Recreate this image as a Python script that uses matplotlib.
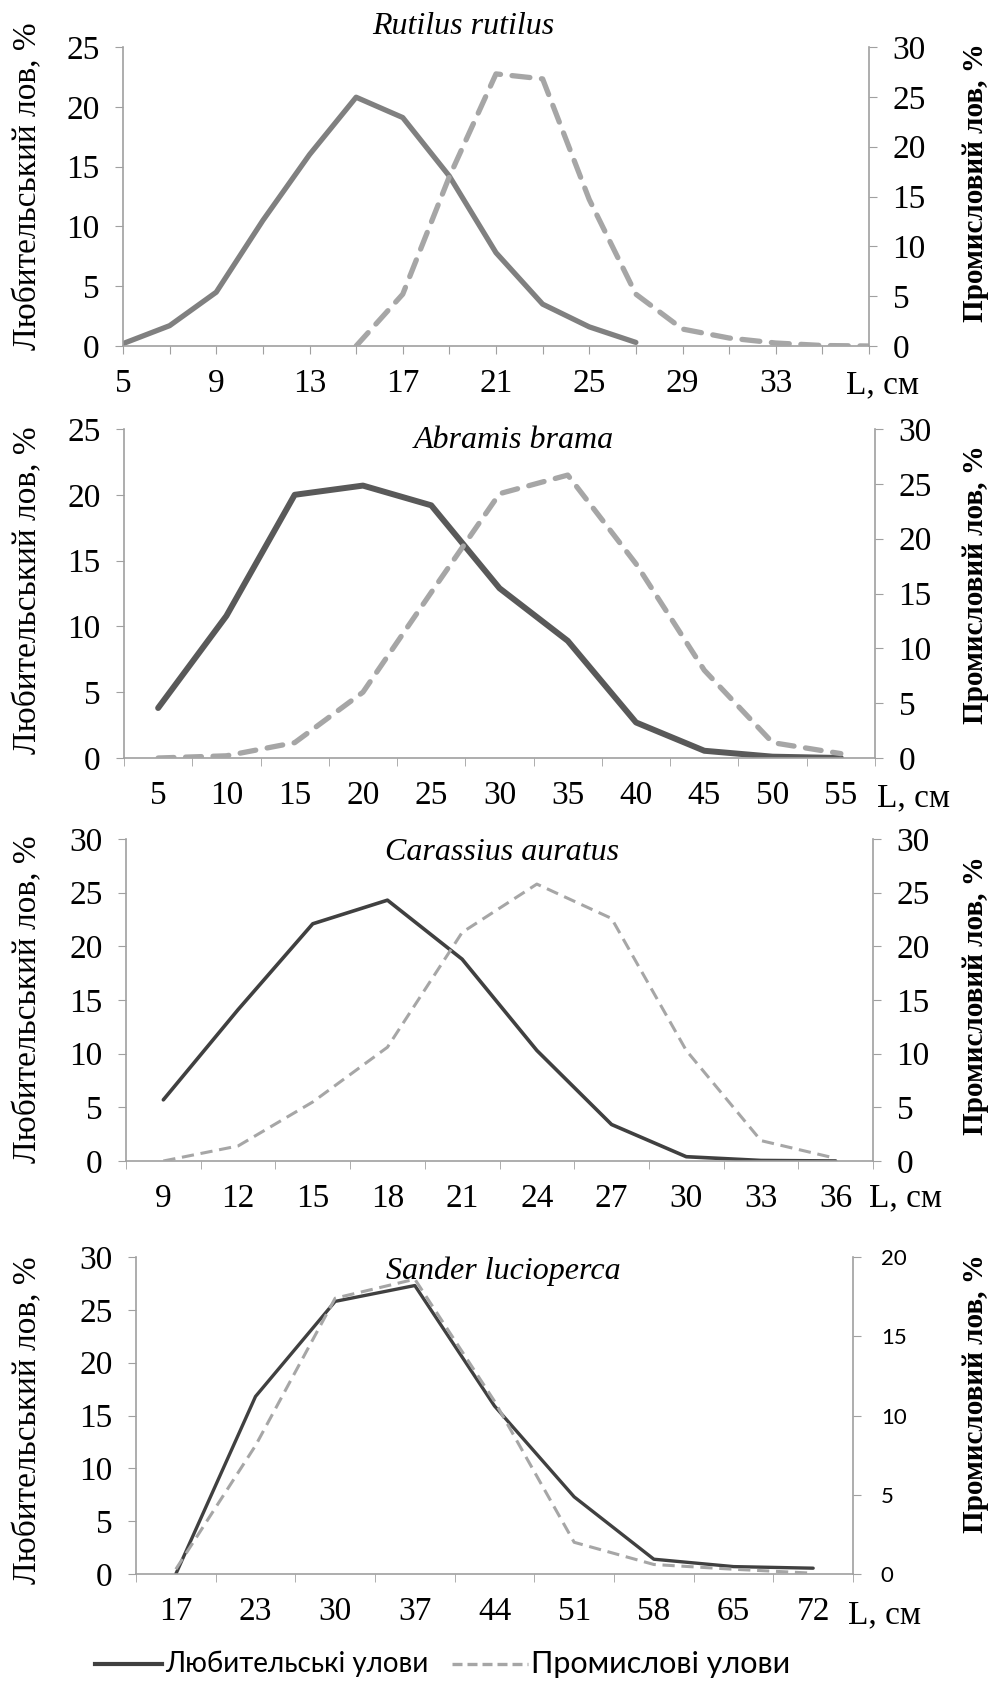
import matplotlib
matplotlib.use("Agg")
import matplotlib.pyplot as plt
from matplotlib.lines import Line2D
import numpy as np

nan = np.nan

# ---------------- data ----------------
rutilus_L = [5, 7, 9, 11, 13, 15, 17, 19, 21, 23, 25, 27, 29, 31, 33, 35, 37]
rutilus_amateur = [0.2, 1.7, 4.5, 10.5, 16.0, 20.8, 19.1, 14.2, 7.8, 3.5, 1.6, 0.3,
                   nan, nan, nan, nan, nan]
rutilus_commercial = [nan, nan, nan, nan, nan, 0.0, 5.2, 17.0, 27.3, 26.8, 14.7, 5.2,
                      1.7, 0.8, 0.3, 0.05, 0.0]

abramis_L = [5, 10, 15, 20, 25, 30, 35, 40, 45, 50, 55]
abramis_amateur = [3.8, 10.8, 20.0, 20.7, 19.2, 12.9, 8.9, 2.7, 0.55, 0.1, 0.0]
abramis_commercial = [0.0, 0.2, 1.4, 6.0, 15.1, 24.1, 25.8, 17.7, 8.0, 1.4, 0.4]

carassius_L = [9, 12, 15, 18, 21, 24, 27, 30, 33, 36]
carassius_amateur = [5.7, 14.1, 22.1, 24.3, 18.8, 10.3, 3.4, 0.4, 0.05, 0.0]
carassius_commercial = [0.0, 1.4, 5.5, 10.6, 21.3, 25.8, 22.6, 10.3, 1.9, 0.25]

sander_L = [17, 23, 30, 37, 44, 51, 58, 65, 72]
sander_amateur = [0.0, 16.8, 25.8, 27.3, 15.9, 7.3, 1.4, 0.7, 0.55]
sander_commercial = [0.3, 8.1, 17.4, 18.6, 10.9, 2.0, 0.6, 0.3, 0.05]

titles = ["Rutilus rutilus", "Abramis brama", "Carassius auratus", "Sander lucioperca"]
left_label = "Любительський лов, %"
right_label = "Промисловий лов, %"
x_unit = "L, см"
legend_labels = ["Любительські улови", "Промислові улови"]

# ---------------- style ----------------
plt.rcParams["font.family"] = ["Liberation Serif", "DejaVu Serif"]
W, H = 996, 1689
fig = plt.figure(figsize=(W / 100, H / 100), dpi=100)

AX_C = "#A0A0A0"
FS = 24
TFS = 23
TICKLEN = 6


def rect(l, r, t, b):
    return [l / W, 1 - b / H, (r - l) / W, (b - t) / H]


def panel(box, L, am, co, ylim_l, ylim_r, on_ticks, label_step, title, title_x,
          title_y, unit_x, unit_y, lab_l_y, lab_r_y, am_style, co_style,
          right_sans=False):
    ax = fig.add_axes(rect(*box))
    n = len(L)
    x = np.arange(n)
    ax2 = ax.twinx()
    ax.plot(x, am, **am_style)
    ax2.plot(x, co, **co_style)

    if on_ticks:
        ax.set_xlim(0, n - 1)
        ax.set_xticks(x)
        ax.set_xticklabels([str(v) if (i % label_step == 0 and i < n - 1) else ""
                            for i, v in enumerate(L)])
        ax.tick_params(axis="x", which="major", length=TICKLEN, direction="out",
                       color=AX_C, labelsize=FS, pad=10)
    else:
        ax.set_xlim(-0.5, n - 0.5)
        ax.set_xticks(x)
        ax.set_xticklabels([str(v) for v in L])
        ax.set_xticks(np.arange(n + 1) - 0.5, minor=True)
        ax.tick_params(axis="x", which="major", length=0, labelsize=FS, pad=16)
        ax.tick_params(axis="x", which="minor", length=TICKLEN, direction="out",
                       color=AX_C)

    ax.set_ylim(*ylim_l)
    ax.set_yticks(np.arange(ylim_l[0], ylim_l[1] + 0.1, 5))
    ax2.set_ylim(*ylim_r)
    ax2.set_yticks(np.arange(ylim_r[0], ylim_r[1] + 0.1, 5))
    ax.tick_params(axis="y", length=TICKLEN, direction="out", color=AX_C,
                   labelsize=FS, pad=11)
    if right_sans:
        ax2.tick_params(axis="y", length=TICKLEN, direction="out", color=AX_C,
                        labelsize=16, pad=14)
        for t in ax2.get_yticklabels():
            t.set_family(["Lato", "DejaVu Sans"])
    else:
        ax2.tick_params(axis="y", length=TICKLEN, direction="out", color=AX_C,
                        labelsize=FS, pad=11)

    for a in (ax, ax2):
        for s in a.spines.values():
            s.set_color(AX_C)
            s.set_linewidth(1.2)
        a.spines["top"].set_visible(False)
    ax.spines["right"].set_visible(False)
    ax2.spines["left"].set_visible(False)
    ax2.spines["bottom"].set_visible(False)
    ax.patch.set_visible(False)

    fig.text(title_x / W, 1 - title_y / H, title, fontsize=TFS, style="italic",
             ha="center", va="center")
    fig.text(unit_x / W, 1 - unit_y / H, x_unit, fontsize=FS, ha="center",
             va="center")
    fig.text(28 / W, 1 - lab_l_y / H, left_label, fontsize=FS, rotation=90,
             ha="center", va="center")
    fig.text(975 / W, 1 - lab_r_y / H, right_label, fontsize=21, rotation=90,
             ha="center", va="center", fontweight="bold")
    return ax, ax2


GRAY_DASH = "#A6A6A6"

panel((123, 869, 47, 346), rutilus_L, rutilus_amateur, rutilus_commercial,
      (0, 25), (0, 30), True, 2, titles[0], 463, 27, 882, 385, 186, 183,
      dict(color="#808080", lw=3.8, solid_capstyle="round", solid_joinstyle="round"),
      dict(color=GRAY_DASH, lw=3.8, ls=(0, (3.4, 2.2)), dash_capstyle="round"))

panel((124, 875, 429, 758), abramis_L, abramis_amateur, abramis_commercial,
      (0, 25), (0, 30), False, 1, titles[1], 514, 440, 913, 798, 590, 585,
      dict(color="#595959", lw=4.3, solid_capstyle="round", solid_joinstyle="round"),
      dict(color=GRAY_DASH, lw=3.8, ls=(0, (3.0, 2.2)), dash_capstyle="round"))

panel((126, 873, 839, 1161), carassius_L, carassius_amateur, carassius_commercial,
      (0, 30), (0, 30), False, 1, titles[2], 502, 852, 905, 1198, 999, 996,
      dict(color="#404040", lw=2.6, solid_capstyle="round", solid_joinstyle="round"),
      dict(color=GRAY_DASH, lw=2.2, ls=(0, (4.0, 2.2))))

panel((136, 853, 1257, 1574), sander_L, sander_amateur, sander_commercial,
      (0, 30), (0, 20), False, 1, titles[3], 503, 1271, 884, 1615, 1420, 1394,
      dict(color="#404040", lw=2.4, solid_capstyle="round", solid_joinstyle="round"),
      dict(color=GRAY_DASH, lw=2.2, ls=(0, (4.0, 2.2))),
      right_sans=True)

# ---------------- legend ----------------
ly = 1 - 1664 / H
fig.add_artist(Line2D([95 / W, 162 / W], [ly, ly], color="#404040", lw=3.0,
                      transform=fig.transFigure))
fig.add_artist(Line2D([452 / W, 528 / W], [ly, ly], color=GRAY_DASH, lw=2.4,
                      ls=(0, (3.0, 1.5)), transform=fig.transFigure))
fig.text(165 / W, ly, legend_labels[0], fontsize=20, family=["Lato", "DejaVu Sans"],
         ha="left", va="center")
fig.text(531 / W, ly, legend_labels[1], fontsize=22, family=["Lato", "DejaVu Sans"],
         ha="left", va="center")

fig.savefig("out.png", dpi=100)
